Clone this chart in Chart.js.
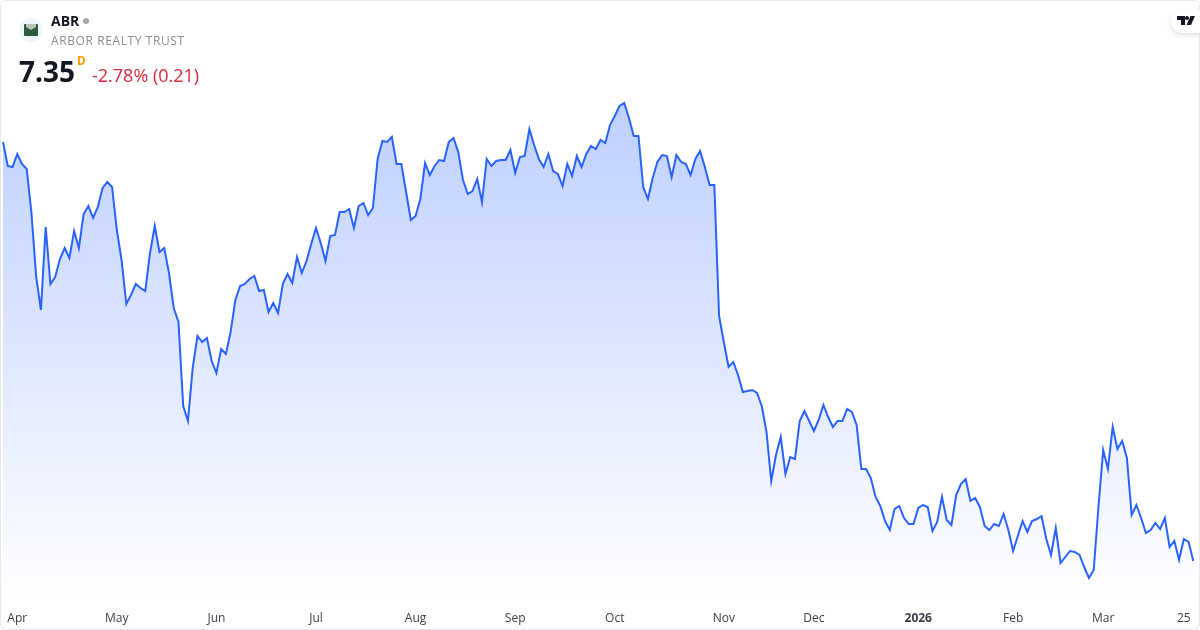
<!DOCTYPE html>
<html><head><meta charset="utf-8">
<script src="https://cdn.jsdelivr.net/npm/chart.js@4/dist/chart.umd.min.js"></script>
<style>
html,body{margin:0;padding:0;background:#fff;width:1200px;height:630px;overflow:hidden;font-family:"Open Sans",sans-serif}
#wrap{position:absolute;left:0;top:0;width:1200px;height:630px}
#frame{position:absolute;left:0;top:0;width:1198px;height:628px;border:1px solid #e6e8ee;border-radius:6px;pointer-events:none}
.t{position:absolute;white-space:nowrap;line-height:1}
#pill{position:absolute;left:1171px;top:10px;width:29px;height:23px;background:#fff;border-radius:12px 0 0 12px;box-shadow:0 2px 5px rgba(0,0,0,.14)}
</style></head><body>
<div id="wrap">
<canvas id="c" width="1200" height="630"></canvas>
<div id="frame"></div>
<svg style="position:absolute;left:19px;top:18px" width="24" height="24" viewBox="0 0 24 24">
<circle cx="12" cy="12" r="12" fill="#eff3fa"/><rect x="5" y="6" width="14" height="12" rx="1" fill="#2c5a3c"/><path d="M7 6h10v3l-5 3-5-3z" fill="#b9c4b6"/></svg>
<div class="t" style="left:51px;top:13.5px;font-size:14px;font-weight:700;color:#131722">ABR</div>
<div style="position:absolute;left:83px;top:18px;width:6px;height:6px;border-radius:50%;background:#a3a6af"></div>
<div class="t" style="left:51px;top:34.5px;font-size:12px;color:#8a8d96;letter-spacing:.6px">ARBOR REALTY TRUST</div>
<div class="t" style="left:19px;top:56.5px;font-size:28px;font-weight:700;color:#131722">7.35</div>
<div class="t" style="left:77px;top:55px;font-size:11.5px;font-weight:700;color:#ff9800">D</div>
<div class="t" style="left:92px;top:65.5px;font-size:18px;color:#d6293e">-2.78% (0.21)</div>
<div id="pill"></div>
<svg style="position:absolute;left:1177px;top:16px" width="18" height="10" viewBox="0 0 18 10">
<path d="M0 0h8v9H4V4H0z" fill="#131722"/><circle cx="10" cy="2" r="2" fill="#131722"/><path d="M13.5 0H18l-4 9H9.5z" fill="#131722"/></svg>
</div>
<script>
const closes = [11.54,11.30,11.29,11.42,11.32,11.27,10.83,10.19,9.86,10.69,10.12,10.19,10.37,10.48,10.38,10.65,10.48,10.82,10.90,10.78,10.89,11.08,11.14,11.09,10.66,10.36,9.92,10.01,10.12,10.08,10.05,10.43,10.70,10.44,10.48,10.23,9.88,9.74,8.90,8.75,9.28,9.60,9.54,9.58,9.35,9.23,9.47,9.42,9.64,9.96,10.10,10.12,10.17,10.20,10.05,10.06,9.84,9.93,9.83,10.12,10.22,10.13,10.39,10.23,10.35,10.52,10.68,10.53,10.35,10.60,10.61,10.84,10.84,10.87,10.68,10.90,10.93,10.81,10.88,11.37,11.55,11.54,11.59,11.32,11.32,11.04,10.76,10.80,10.97,11.33,11.21,11.30,11.36,11.35,11.54,11.58,11.44,11.16,11.02,11.05,11.17,10.94,11.37,11.30,11.35,11.36,11.36,11.46,11.23,11.39,11.40,11.67,11.51,11.37,11.29,11.42,11.25,11.22,11.10,11.32,11.20,11.40,11.29,11.42,11.50,11.47,11.56,11.53,11.71,11.80,11.90,11.93,11.78,11.60,11.60,11.09,10.97,11.18,11.34,11.41,11.40,11.19,11.41,11.34,11.32,11.21,11.37,11.45,11.29,11.11,11.11,9.80,9.54,9.29,9.34,9.21,9.04,9.05,9.06,9.03,8.90,8.64,8.15,8.41,8.59,8.22,8.39,8.37,8.75,8.85,8.75,8.65,8.76,8.91,8.79,8.69,8.75,8.75,8.87,8.84,8.71,8.27,8.27,8.18,7.99,7.90,7.75,7.66,7.87,7.90,7.78,7.72,7.72,7.88,7.91,7.89,7.65,7.74,7.99,7.76,7.71,8.01,8.12,8.17,7.95,7.98,7.89,7.70,7.66,7.72,7.70,7.82,7.66,7.45,7.60,7.75,7.64,7.75,7.77,7.80,7.57,7.41,7.68,7.33,7.39,7.45,7.44,7.41,7.29,7.18,7.26,7.89,8.46,8.27,8.69,8.47,8.55,8.38,7.81,7.91,7.78,7.63,7.66,7.73,7.67,7.78,7.49,7.55,7.36,7.57,7.54,7.35];
const tickLabels = ["Apr","May","Jun","Jul","Aug","Sep","Oct","Nov","Dec","2026","Feb","Mar","25"];
const tickIndices = [3,24,45,66,87,108,129,152,171,193,213,232,249];
const categories = closes.map((_, i) => { const k = tickIndices.indexOf(i); return k >= 0 ? tickLabels[k] : ""; });

new Chart(document.getElementById("c"), {
  type: "line",
  data: { labels: categories, datasets: [{
    data: closes,
    borderColor: "#2962ff",
    borderWidth: 2,
    pointRadius: 0,
    tension: 0,
    fill: "start",
    backgroundColor(ctx) {
      const a = ctx.chart.chartArea;
      if (!a) return "rgba(41,98,255,.28)";
      const g = ctx.chart.ctx.createLinearGradient(0, 100, 0, a.bottom);
      g.addColorStop(0, "rgba(41,98,255,0.30)");
      g.addColorStop(1, "rgba(41,98,255,0)");
      return g;
    }
  }]},
  options: {
    responsive: false, animation: false,
    layout: { padding: { left: 2.7, right: 6.7, top: 0, bottom: 0 } },
    plugins: { legend: { display: false }, tooltip: { enabled: false } },
    scales: {
      x: {
        offset: false,
        grid: { display: false }, border: { display: false },
        afterFit(s) { s.height = 30; },
        ticks: {
          autoSkip: false, maxRotation: 0, minRotation: 0, padding: 3,
          align: "center",
          color: "#3b3e47",
          font(ctx) { return { family: '"Open Sans"', size: 12, weight: ctx.tick && ctx.tick.label === "2026" ? "700" : "400" }; }
        }
      },
      y: { display: false, min: 6.96, max: 12.96 }
    }
  }
});
</script>
</body></html>
